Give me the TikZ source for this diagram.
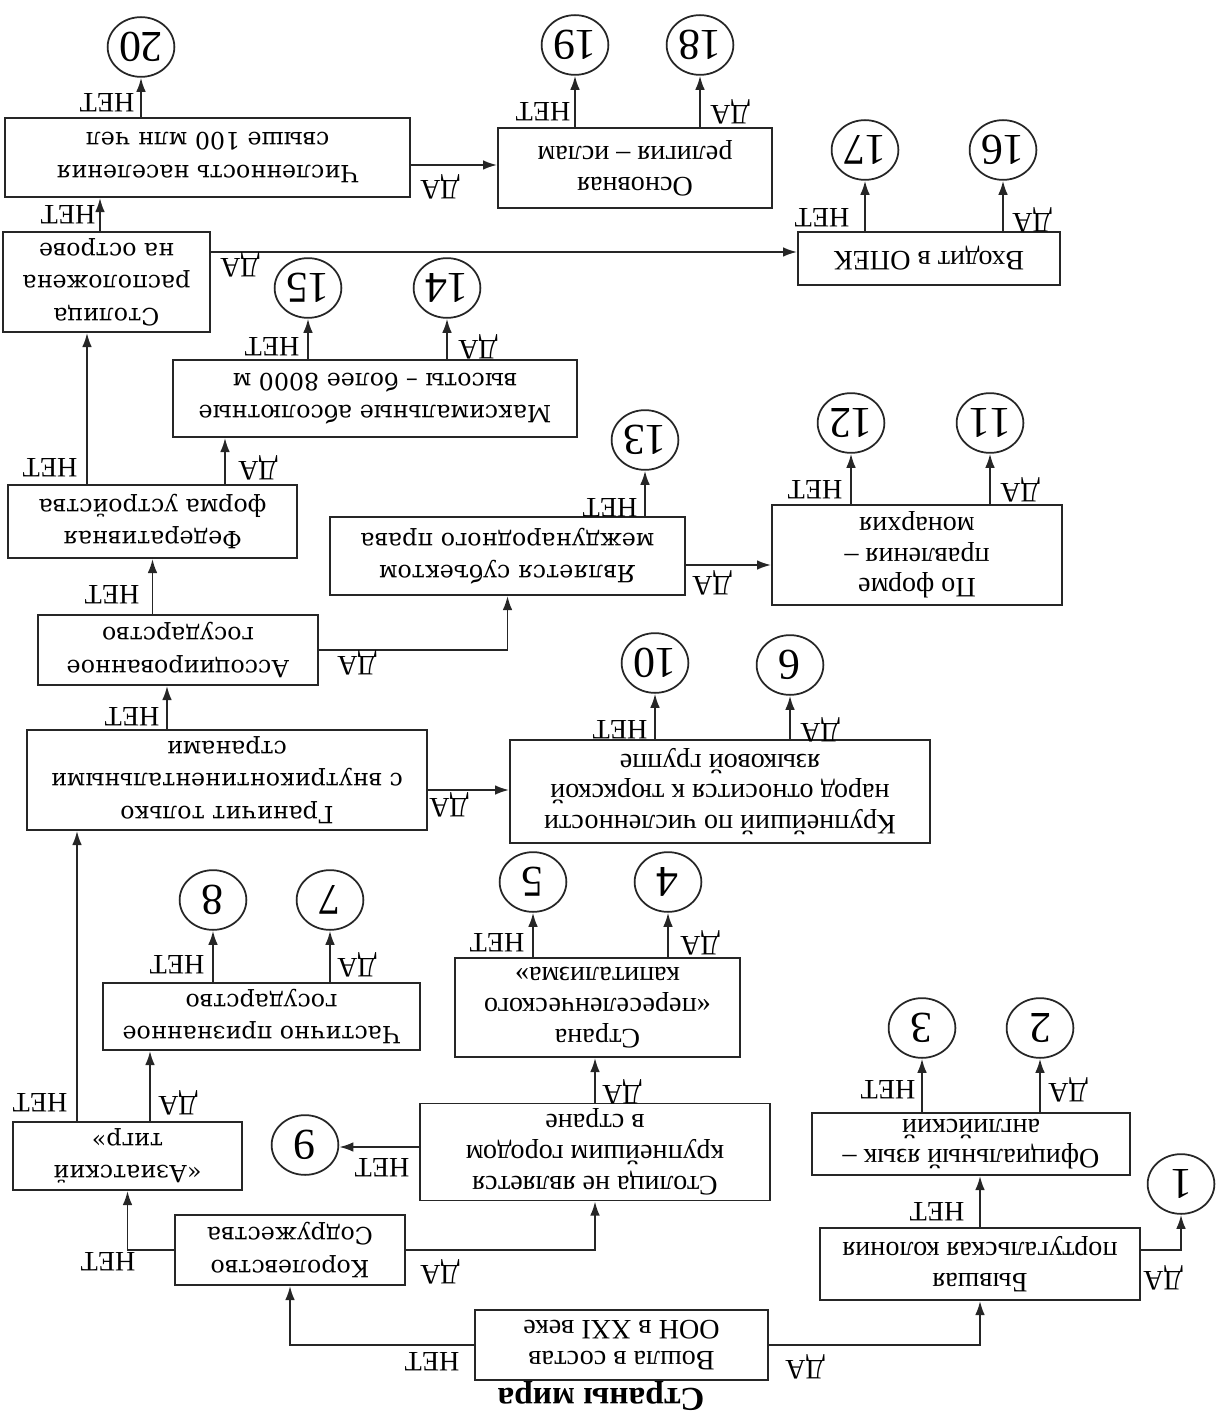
\documentclass[tikz,border=0pt]{standalone}
\usepackage{fontspec}
\setmainfont{Liberation Serif}
\newfontfamily\slabfont{DejaVu Serif}
\usetikzlibrary{shapes.geometric,arrows.meta}
\begin{document}
\begin{tikzpicture}[x=0.02cm,y=-0.02cm,
  box/.style={draw=black!85, line width=1.1pt, rotate=180, align=center, inner sep=0pt},
  tbox/.style={box, font=\fontsize{16}{17.5}\selectfont},
  sbox/.style={box, font=\slabfont\fontsize{13.5}{18.5}\selectfont},
  num/.style={draw=black!85, line width=1pt, ellipse, rotate=180, inner sep=0pt,
    minimum width=38pt, minimum height=34pt, font=\fontsize{25}{25}\selectfont},
  lab/.style={rotate=180, inner sep=0pt, font=\fontsize{16}{16}\selectfont},
  arr/.style={draw=black!85, line width=1.1pt, -{Latex[length=8pt,width=5.5pt]}}
]
\useasboundingbox (0,0) rectangle (1224,1415);

% ---------- boxes ----------
\node[tbox, minimum width=5.86cm, minimum height=1.4cm]  (root)     at (621.5,1345) {Вошла в состав\\ООН в XXI веке};
\node[tbox, minimum width=6.4cm,  minimum height=1.44cm] (colony)   at (980,1264)   {Бывшая\\португальская колония};
\node[tbox, minimum width=6.36cm, minimum height=1.24cm] (lang)     at (971,1144)   {Официальный язык –\\английский};
\node[sbox, minimum width=4.6cm,  minimum height=1.4cm]  (kingdom)  at (290,1250)   {Королевство\\Содружества};
\node[tbox, minimum width=7.0cm,  minimum height=1.94cm] (capital)  at (595,1152)   {Столица не является\\крупнейшим городом\\в стране};
\node[sbox, minimum width=4.58cm, minimum height=1.36cm] (tiger)    at (127.5,1156) {«Азиатский\\тигр»};
\node[tbox, minimum width=5.7cm,  minimum height=1.98cm] (settler)  at (597.5,1007.5) {Страна\\«переселенческого\\капитализма»};
\node[sbox, minimum width=6.34cm, minimum height=1.34cm] (partial)  at (261.5,1016.5) {Частично признанное\\государство};
\node[sbox, minimum width=8.0cm,  minimum height=2.0cm]  (border)   at (227,780)    {Граничит только\\с внутриконтинентальными\\странами};
\node[tbox, minimum width=8.4cm,  minimum height=2.06cm] (turk)     at (720,791.5)  {Крупнейший по численности\\народ относится к тюркской\\языковой группе};
\node[sbox, minimum width=5.6cm,  minimum height=1.4cm]  (assoc)    at (178,650)    {Ассоциированное\\государство};
\node[sbox, minimum width=7.1cm,  minimum height=1.56cm] (subject)  at (507.5,556)  {Является субъектом\\международного права};
\node[tbox, minimum width=5.8cm,  minimum height=2.0cm]  (monarchy) at (917,555)    {По форме\\правления –\\монархия};
\node[sbox, minimum width=5.78cm, minimum height=1.46cm] (fed)      at (152.5,521.5) {Федеративная\\форма устройства};
\node[sbox, minimum width=8.08cm, minimum height=1.54cm] (heights)  at (375,398.5)  {Максимальные абсолютные\\высоты – более 8000 м};
\node[sbox, minimum width=4.14cm, minimum height=2.0cm]  (island)   at (106.5,282)  {Столица\\расположена\\на острове};
\node[tbox, minimum width=5.24cm, minimum height=1.06cm] (opec)     at (929,258.5)  {Входит в ОПЕК};
\node[sbox, minimum width=8.1cm,  minimum height=1.58cm] (pop)      at (207.5,157.5) {Численность населения\\свыше 100 млн чел};
\node[tbox, minimum width=5.48cm, minimum height=1.6cm]  (islam)    at (635,168)    {Основная\\религия – ислам};

\node[rotate=180, inner sep=0pt, font=\bfseries\fontsize{19}{19}\selectfont] (title) at (601,1396) {Страны мира};

% ---------- end circles ----------
\node[num] (c1)  at (1181,1184) {1};
\node[num] (c2)  at (1040,1028) {2};
\node[num] (c3)  at (922,1028)  {3};
\node[num] (c4)  at (668,882)   {4};
\node[num] (c5)  at (533,882)   {5};
\node[num] (c6)  at (305,1145)  {9};
\node[num] (c7)  at (330,900)   {7};
\node[num] (c8)  at (213,900)   {8};
\node[num] (c9)  at (790,665)   {6};
\node[num] (c10) at (655,663)   {10};
\node[num] (c11) at (990,423)   {11};
\node[num] (c12) at (851,423)   {12};
\node[num] (c13) at (645,440)   {13};
\node[num] (c14) at (447,288)   {14};
\node[num] (c15) at (308,288)   {15};
\node[num] (c16) at (1003,150)  {16};
\node[num] (c17) at (865,150)   {17};
\node[num] (c18) at (700,45)    {18};
\node[num] (c19) at (575,45)    {19};
\node[num] (c20) at (141,47)    {20};

% ---------- connectors ----------
\draw[arr] (root.east) -| (kingdom.north);
\draw[arr] (root.west) -| (colony.north);
\draw[arr] (colony.west |- 0,1250) -| (c1.north);
\draw[arr] (colony.south) -- (colony.south |- lang.north);
\draw[arr] (c2 |- lang.south) -- (c2.north);
\draw[arr] (c3 |- lang.south) -- (c3.north);
\draw[arr] (kingdom.west) -| (capital.north);
\draw[arr] (kingdom.east) -| (tiger.north);
\draw[arr] (capital.east |- 0,1147) -- (c6.west |- 0,1147);
\draw[arr] (capital.south) -- (capital.south |- settler.north);
\draw[arr] (c4 |- settler.south) -- (c4.north);
\draw[arr] (c5 |- settler.south) -- (c5.north);
\draw[arr] (tiger.south -| 150,0) -- (partial.north -| 150,0);
\draw[arr] (tiger.south -| 77,0) -- (border.north -| 77,0);
\draw[arr] (c7 |- partial.south) -- (c7.north);
\draw[arr] (c8 |- partial.south) -- (c8.north);
\draw[arr] (border.west |- 0,790) -- (turk.east |- 0,790);
\draw[arr] (border.south -| 167,0) -- (assoc.north -| 167,0);
\draw[arr] (c9 |- turk.south) -- (c9.north);
\draw[arr] (c10 |- turk.south) -- (c10.north);
\draw[arr] (assoc.west) -| (subject.north);
\draw[arr] (assoc.south -| fed) -- (fed.north);
\draw[arr] (subject.west |- 0,565) -- (monarchy.east |- 0,565);
\draw[arr] (c13 |- subject.south) -- (c13.north);
\draw[arr] (c11 |- monarchy.south) -- (c11.north);
\draw[arr] (c12 |- monarchy.south) -- (c12.north);
\draw[arr] (fed.south -| 225,0) -- (heights.north -| 225,0);
\draw[arr] (fed.south -| 87,0) -- (island.north -| 87,0);
\draw[arr] (c14 |- heights.south) -- (c14.north);
\draw[arr] (c15 |- heights.south) -- (c15.north);
\draw[arr] (island.west |- 0,252) -- (opec.east |- 0,252);
\draw[arr] (island.south -| 100,0) -- (pop.north -| 100,0);
\draw[arr] (c16 |- opec.south) -- (c16.north);
\draw[arr] (c17 |- opec.south) -- (c17.north);
\draw[arr] (pop.west |- 0,165) -- (islam.east |- 0,165);
\draw[arr] (c20 |- pop.south) -- (c20.north);
\draw[arr] (c18 |- islam.south) -- (c18.north);
\draw[arr] (c19 |- islam.south) -- (c19.north);

% ---------- labels ----------
\node[lab] (l1)  at (432,1362)  {НЕТ};
\node[lab] (l2)  at (805,1367)  {ДА};
\node[lab] (l3)  at (1163,1278) {ДА};
\node[lab] (l4)  at (937,1212)  {НЕТ};
\node[lab] (l5)  at (1068,1090) {ДА};
\node[lab] (l6)  at (888,1090)  {НЕТ};
\node[lab] (l7)  at (440,1272)  {ДА};
\node[lab] (l8)  at (108,1262)  {НЕТ};
\node[lab] (l9)  at (382,1168)  {НЕТ};
\node[lab] (l10) at (622,1092)  {ДА};
\node[lab] (l11) at (40,1103)   {НЕТ};
\node[lab] (l12) at (178,1103)  {ДА};
\node[lab] (l13) at (700,943)   {ДА};
\node[lab] (l14) at (497,943)   {НЕТ};
\node[lab] (l15) at (357,965)   {ДА};
\node[lab] (l16) at (177,965)   {НЕТ};
\node[lab] (l17) at (449,805)   {ДА};
\node[lab] (l18) at (132,717)   {НЕТ};
\node[lab] (l19) at (820,730)   {ДА};
\node[lab] (l20) at (620,730)   {НЕТ};
\node[lab] (l21) at (357,663)   {ДА};
\node[lab] (l22) at (112,595)   {НЕТ};
\node[lab] (l23) at (712,583)   {ДА};
\node[lab] (l24) at (610,508)   {НЕТ};
\node[lab] (l25) at (1020,490)  {ДА};
\node[lab] (l26) at (815,490)   {НЕТ};
\node[lab] (l27) at (258,468)   {ДА};
\node[lab] (l28) at (50,468)    {НЕТ};
\node[lab] (l29) at (478,347)   {ДА};
\node[lab] (l30) at (272,347)   {НЕТ};
\node[lab] (l31) at (240,265)   {ДА};
\node[lab] (l32) at (68,215)    {НЕТ};
\node[lab] (l33) at (1032,220)  {ДА};
\node[lab] (l34) at (822,218)   {НЕТ};
\node[lab] (l35) at (440,187)   {ДА};
\node[lab] (l36) at (107,103)   {НЕТ};
\node[lab] (l37) at (730,112)   {ДА};
\node[lab] (l38) at (543,112)   {НЕТ};
\end{tikzpicture}
\end{document}
